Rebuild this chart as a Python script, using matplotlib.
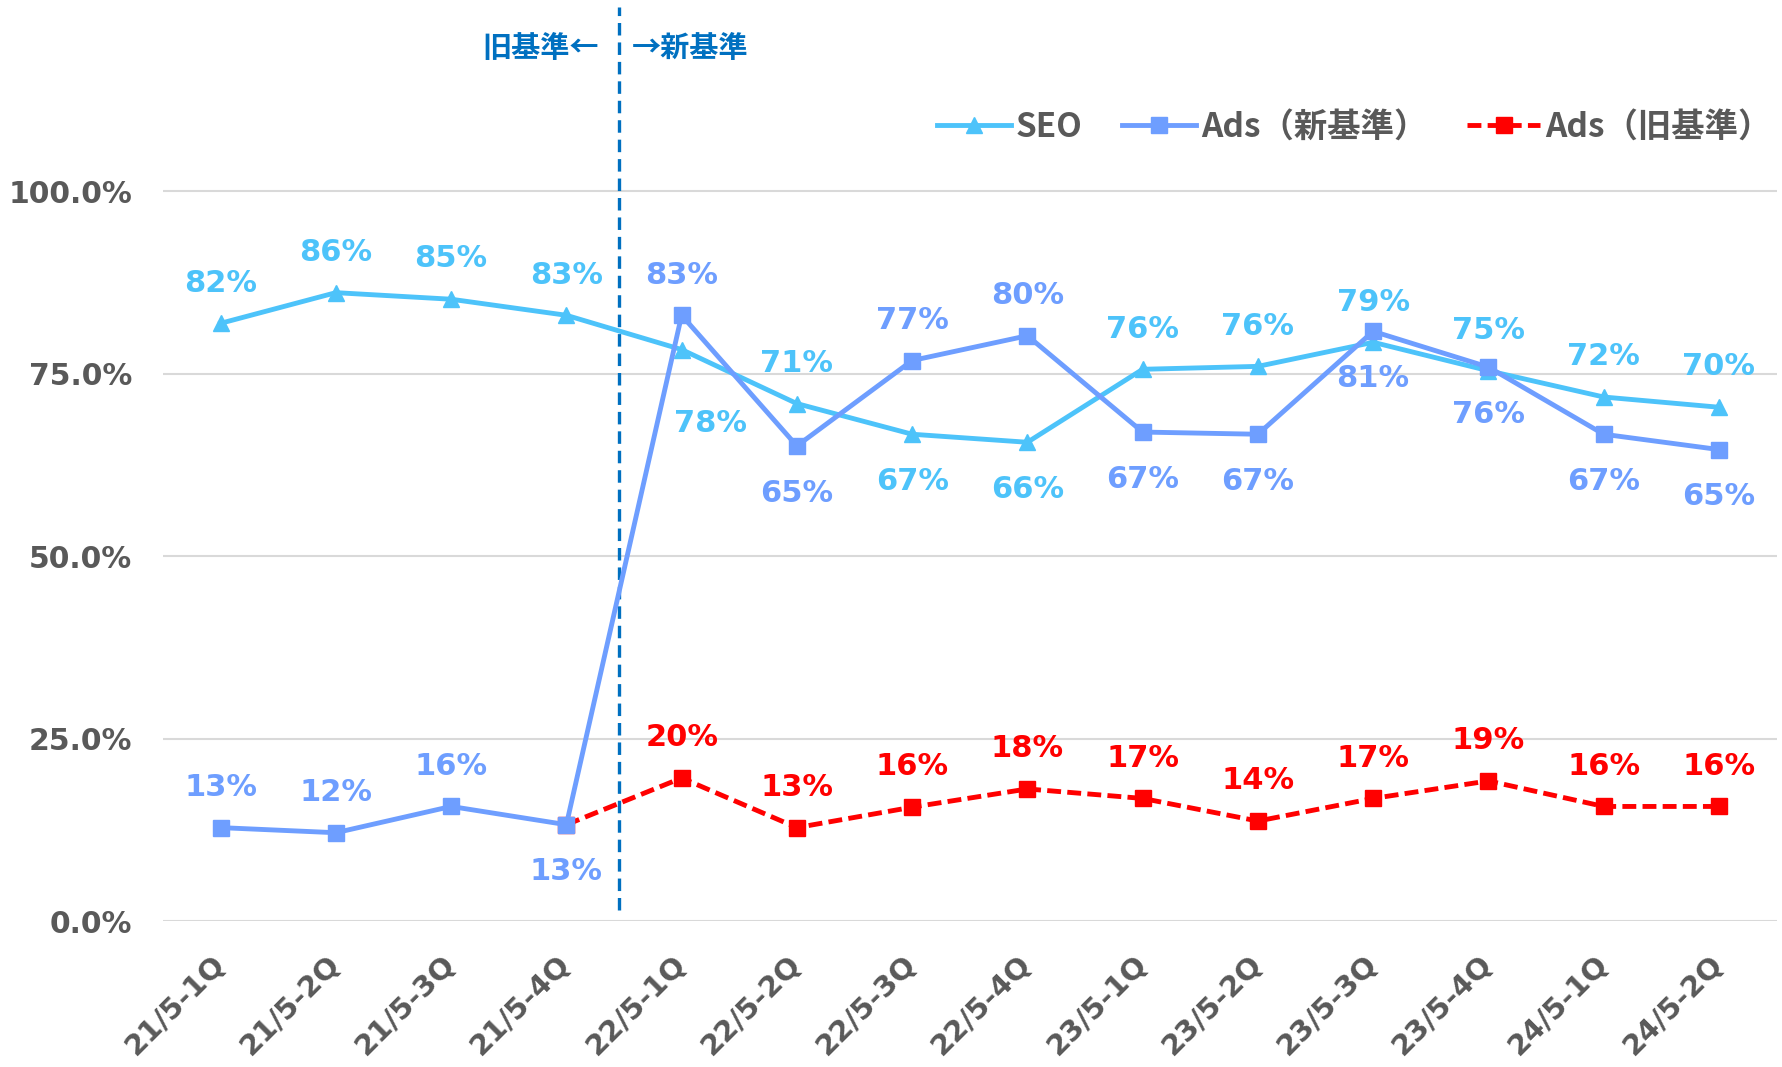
import numpy as np
import matplotlib
matplotlib.use('Agg')
import matplotlib.pyplot as plt
from matplotlib.transforms import ScaledTranslation

plt.rcParams['font.family'] = ['DejaVu Sans', 'Noto Sans CJK JP']
plt.rcParams['lines.scale_dashes'] = False

# データ
quarters = ['21/5-1Q', '21/5-2Q', '21/5-3Q', '21/5-4Q',
            '22/5-1Q', '22/5-2Q', '22/5-3Q', '22/5-4Q',
            '23/5-1Q', '23/5-2Q', '23/5-3Q', '23/5-4Q',
            '24/5-1Q', '24/5-2Q']
seo = [0.819, 0.861, 0.852, 0.830, 0.783, 0.709, 0.667, 0.656,
       0.756, 0.760, 0.793, 0.754, 0.718, 0.704]
ads_new = [0.128, 0.121, 0.157, 0.132, 0.830, 0.651, 0.768, 0.802,
           0.670, 0.667, 0.808, 0.759, 0.667, 0.646]
ads_old = [np.nan, np.nan, np.nan, 0.132, 0.196, 0.128, 0.156, 0.181,
           0.168, 0.137, 0.168, 0.192, 0.157, 0.157]

# ラベル位置 (a=上, b=下)
seo_pos = ['a', 'a', 'a', 'a', 'r', 'a', 'b', 'b', 'a', 'a', 'a', 'a', 'a', 'a']
ads_new_pos = ['a', 'a', 'a', 'b', 'a', 'b', 'a', 'a', 'b', 'b', 'b', 'b', 'b', 'b']

c_seo = '#4DC3FA'
c_new = '#6E9EFF'
c_old = '#FF0000'
c_txt = '#595959'
c_div = '#0070C0'

fig = plt.figure(figsize=(17.83, 10.67), dpi=100)
ax = fig.add_axes([0.0914, 0.1368, 0.905, 0.8632])
x = np.arange(len(quarters))

ax.plot(x, ads_old, color=c_old, lw=3.5, ls='--', dashes=(10, 4.5),
        marker='s', ms=12, label='Ads（旧基準）', zorder=3)
ax.plot(x, seo, color=c_seo, lw=3.5, marker='^', ms=12,
        label='SEO', zorder=4)
ax.plot(x, ads_new, color=c_new, lw=3.5, marker='s', ms=12,
        label='Ads（新基準）', zorder=5)

def etiquetas(vals, pos, color):
    for i, v in enumerate(vals):
        if np.isnan(v):
            continue
        p = pos[i] if pos else 'a'
        off = {'a': (0, 29), 'b': (0, -34), 'r': (21, -53)}[p]
        ax.annotate(f'{round(v * 100)}%', (i, v), xytext=off,
                    textcoords='offset points', ha='center', va='center',
                    fontsize=22, fontweight='bold', color=color, zorder=6)

etiquetas(seo, seo_pos, c_seo)
etiquetas(ads_new, ads_new_pos, c_new)
old_labels = [v if i >= 4 else np.nan for i, v in enumerate(ads_old)]
etiquetas(old_labels, None, c_old)

# 区切り線
xdiv = 3.46
ax.plot([xdiv, xdiv], [0.015, 1.253], ls='--', dashes=(9, 5), color=c_div,
        lw=2.4, clip_on=False, zorder=2)
ax.annotate('旧基準←', (xdiv, 1.196), xytext=(-15, 0), textcoords='offset points',
            ha='right', va='center', fontsize=21, fontweight='bold', color=c_div,
            family=['Noto Sans CJK JP', 'DejaVu Sans'])
ax.annotate('→新基準', (xdiv, 1.196), xytext=(9, 0), textcoords='offset points',
            ha='left', va='center', fontsize=21, fontweight='bold', color=c_div,
            family=['Noto Sans CJK JP', 'DejaVu Sans'])

ax.set_xlim(-0.5, len(quarters) - 0.5)
ax.set_ylim(0, 1.262)
ax.set_yticks([0, 0.25, 0.5, 0.75, 1.0])
ax.set_yticklabels(['0.0%', '25.0%', '50.0%', '75.0%', '100.0%'],
                   fontsize=21.5, fontweight='bold', color=c_txt)
ax.set_xticks(x)
ax.set_xticklabels(quarters, rotation=45, ha='right', va='center',
                   rotation_mode='anchor', fontsize=21, fontweight='bold', color=c_txt)
for lbl in ax.get_xticklabels():
    lbl.set_transform(lbl.get_transform() + ScaledTranslation(7 / 72, 0, fig.dpi_scale_trans))
ax.tick_params(axis='y', length=0, pad=22)
ax.tick_params(axis='x', length=0, pad=28)
ax.grid(axis='y', color='#D9D9D9', lw=1.5)
ax.set_axisbelow(True)
for s in ax.spines.values():
    s.set_visible(False)

handles, labels = ax.get_legend_handles_labels()
order = [1, 2, 0]
leg = ax.legend([handles[i] for i in order], [labels[i] for i in order],
                ncol=3, loc='center right', bbox_to_anchor=(0.997, 0.862),
                frameon=False, handlelength=2.2, columnspacing=1.2,
                handletextpad=0.15, borderpad=0, borderaxespad=0,
                prop={'family': ['Noto Sans CJK JP', 'DejaVu Sans'],
                      'weight': 'bold', 'size': 24})
for t in leg.get_texts():
    t.set_color(c_txt)

fig.savefig('out.png', dpi=100)
